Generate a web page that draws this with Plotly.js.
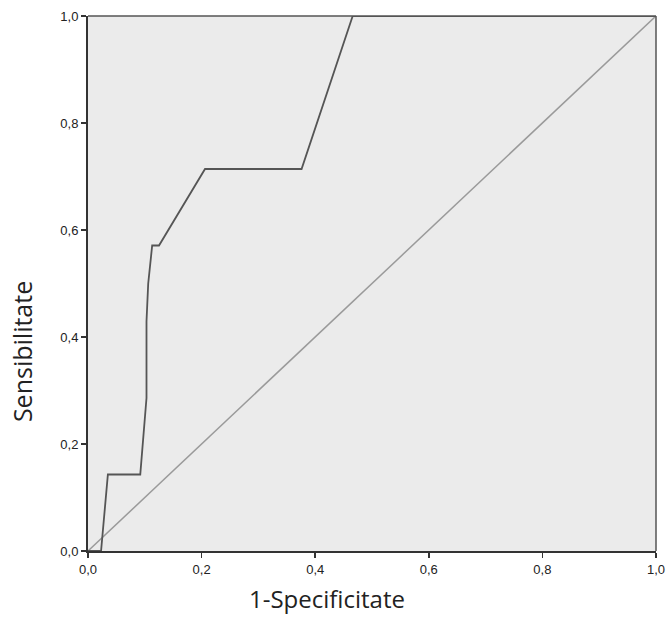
<!DOCTYPE html>
<html>
<head>
<meta charset="utf-8">
<script src="https://cdn.plot.ly/plotly-3.0.1.min.js"></script>
<style>html,body{margin:0;padding:0;background:#fff}#chart{width:667px;height:617px}</style>
</head>
<body>
<div id="chart"></div>
<script>
// ROC curve points (1-Specificitate, Sensibilitate)
const rocX = [0, 0.023, 0.035, 0.092, 0.103, 0.103, 0.106, 0.113, 0.125, 0.206, 0.376, 0.466, 1.0];
const rocY = [0, 0, 0.143, 0.143, 0.286, 0.429, 0.5, 0.571, 0.571, 0.714, 0.714, 1.0, 1.0];
// Reference diagonal
const refX = [0, 1];
const refY = [0, 1];
const tickVals = [0, 0.2, 0.4, 0.6, 0.8, 1.0];
const tickText = ["0,0", "0,2", "0,4", "0,6", "0,8", "1,0"];
const xTitle = "1-Specificitate";
const yTitle = "Sensibilitate";

const data = [
  {x: refX, y: refY, mode: 'lines', line: {color: '#9a9a9a', width: 1.5}, hoverinfo: 'skip'},
  {x: rocX, y: rocY, mode: 'lines', line: {color: '#555555', width: 1.8}}
];

const axisCommon = {
  range: [0, 1], tickvals: tickVals, ticktext: tickText,
  ticks: 'outside', ticklen: 5, tickwidth: 1.5, tickcolor: '#333',
  showline: true, linecolor: '#333', linewidth: 2, mirror: false,
  showgrid: false, zeroline: false,
  tickfont: {family: 'Liberation Sans, Arial, sans-serif', size: 13, color: '#222'},
  fixedrange: true
};

const layout = {
  width: 667, height: 617,
  margin: {l: 88, r: 11, t: 16, b: 66},
  paper_bgcolor: '#ffffff',
  plot_bgcolor: '#ebebeb',
  showlegend: false,
  xaxis: Object.assign({}, axisCommon),
  yaxis: Object.assign({}, axisCommon),
  shapes: [
    {type: 'line', xref: 'paper', yref: 'paper', x0: 0, x1: 1, y0: 1, y1: 1, line: {color: '#555', width: 1.5}},
    {type: 'line', xref: 'paper', yref: 'paper', x0: 1, x1: 1, y0: 0, y1: 1, line: {color: '#555', width: 1.5}}
  ],
  annotations: [
    {text: xTitle, xref: 'paper', yref: 'paper', x: 0.42, y: -0.1215, showarrow: false, borderpad: 0,
     xanchor: 'center', yanchor: 'bottom', font: {family: 'Open Sans, sans-serif', size: 24, color: '#222'}},
    {text: yTitle, xref: 'paper', yref: 'paper', x: -0.116, y: 0.372, showarrow: false, textangle: -90,
     xanchor: 'center', yanchor: 'middle', font: {family: 'Open Sans, sans-serif', size: 25, color: '#222'}}
  ]
};

Plotly.newPlot('chart', data, layout, {displayModeBar: false, staticPlot: true});
</script>
</body>
</html>
